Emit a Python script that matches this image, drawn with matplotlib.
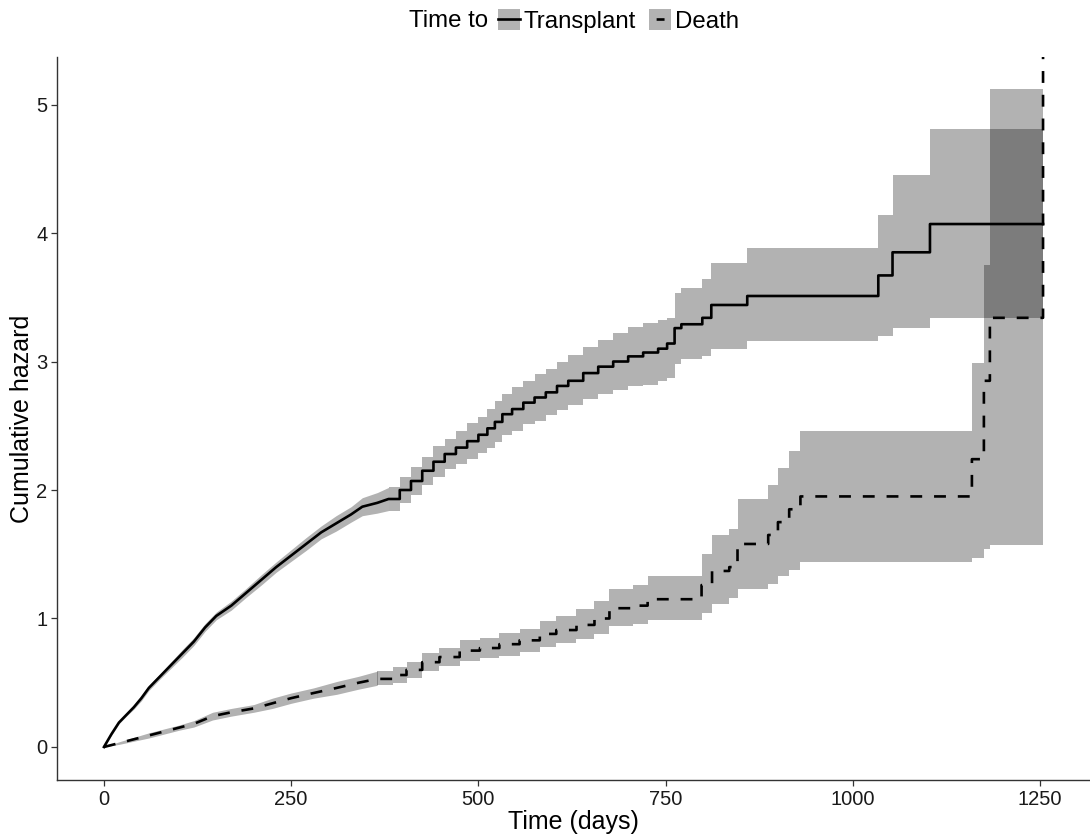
import matplotlib
matplotlib.use("Agg")
import matplotlib.pyplot as plt
from matplotlib.patches import Patch
from matplotlib.lines import Line2D
from matplotlib.legend_handler import HandlerTuple

plt.rcParams['font.family'] = ['Liberation Sans', 'DejaVu Sans']

# Nelson-Aalen cumulative hazard, time to transplant (step times in days)
transplant_time = [0, 10, 20, 30, 40, 50, 60, 75, 90, 105, 120, 135, 150, 170, 190,
                   210, 230, 250, 270, 290, 310, 330, 345, 365, 380, 395, 410, 425,
                   440, 455, 470, 485, 500, 512, 522, 532, 545, 560, 575, 590, 605,
                   620, 640, 660, 680, 700, 720, 740, 752, 762, 771, 799, 811, 859,
                   1034, 1053, 1103, 1254]
transplant_haz = [0, 0.10, 0.19, 0.25, 0.31, 0.38, 0.46, 0.55, 0.64, 0.73, 0.82, 0.93,
                  1.02, 1.10, 1.20, 1.30, 1.40, 1.49, 1.58, 1.67, 1.74, 1.81, 1.87,
                  1.90, 1.93, 2.00, 2.07, 2.15, 2.22, 2.28, 2.33, 2.38, 2.43, 2.48,
                  2.53, 2.59, 2.63, 2.68, 2.72, 2.76, 2.81, 2.85, 2.91, 2.96, 3.00,
                  3.04, 3.07, 3.10, 3.14, 3.26, 3.29, 3.34, 3.44, 3.51, 3.67, 3.85,
                  4.07, 4.07]
transplant_lo = [0, 0.09, 0.18, 0.24, 0.295, 0.36, 0.44, 0.53, 0.615, 0.70, 0.79, 0.90,
                 0.99, 1.065, 1.165, 1.26, 1.36, 1.445, 1.53, 1.62, 1.68, 1.75, 1.80,
                 1.82, 1.84, 1.90, 1.96, 2.04, 2.10, 2.16, 2.20, 2.24, 2.29, 2.33,
                 2.37, 2.43, 2.46, 2.51, 2.54, 2.58, 2.62, 2.66, 2.71, 2.75, 2.78,
                 2.81, 2.82, 2.85, 2.87, 2.98, 3.02, 3.04, 3.10, 3.16, 3.20, 3.26,
                 3.34, 3.34]
transplant_hi = [0, 0.11, 0.20, 0.26, 0.325, 0.40, 0.48, 0.57, 0.665, 0.76, 0.85, 0.96,
                 1.05, 1.135, 1.235, 1.34, 1.44, 1.535, 1.63, 1.72, 1.80, 1.87, 1.94,
                 1.98, 2.02, 2.10, 2.18, 2.26, 2.34, 2.40, 2.46, 2.52, 2.57, 2.63,
                 2.69, 2.75, 2.80, 2.85, 2.90, 2.94, 3.00, 3.05, 3.11, 3.17, 3.22,
                 3.27, 3.30, 3.32, 3.34, 3.53, 3.57, 3.64, 3.77, 3.88, 4.14, 4.45,
                 4.81, 4.81]

# cumulative hazard, time to death
death_time = [0, 20, 40, 60, 80, 100, 120, 145, 170, 200, 225, 250, 280, 311, 340,
              365, 386, 404, 425, 448, 475, 502, 528, 555, 582, 604, 631, 655, 675,
              706, 726, 798, 812, 835, 846, 887, 900, 915, 930, 1159, 1175, 1183, 1254]
death_haz = [0, 0.03, 0.06, 0.09, 0.12, 0.15, 0.18, 0.24, 0.27, 0.30, 0.34, 0.38, 0.42,
             0.46, 0.50, 0.53, 0.56, 0.60, 0.66, 0.70, 0.75, 0.77, 0.80, 0.83, 0.88,
             0.91, 0.95, 1.00, 1.08, 1.10, 1.15, 1.26, 1.37, 1.40, 1.58, 1.65, 1.75,
             1.85, 1.95, 2.24, 2.85, 3.34, 5.45]
death_lo = [0, 0.02, 0.045, 0.07, 0.10, 0.13, 0.155, 0.21, 0.24, 0.27, 0.30, 0.34, 0.38,
            0.41, 0.45, 0.48, 0.50, 0.54, 0.59, 0.63, 0.67, 0.69, 0.71, 0.74, 0.78,
            0.81, 0.84, 0.88, 0.94, 0.96, 0.99, 1.04, 1.11, 1.16, 1.23, 1.27, 1.33,
            1.38, 1.44, 1.47, 1.54, 1.57, 1.57]
death_hi = [0, 0.04, 0.075, 0.11, 0.14, 0.17, 0.205, 0.27, 0.30, 0.33, 0.38, 0.42, 0.46,
            0.51, 0.55, 0.59, 0.62, 0.66, 0.73, 0.77, 0.83, 0.85, 0.89, 0.92, 0.98,
            1.02, 1.07, 1.14, 1.23, 1.26, 1.33, 1.50, 1.65, 1.70, 1.93, 2.04, 2.17,
            2.30, 2.46, 2.99, 3.75, 5.12, 5.12]

# early on the events are so dense that the steps merge into a smooth curve
transplant_smooth_until = 380
death_smooth_until = 365

lw = 1.9
band_kw = dict(color='black', alpha=0.3, linewidth=0)


def draw_hazard(ax, t, h, lo, hi, smooth_until, ls):
    k = max(i for i, v in enumerate(t) if v <= smooth_until)
    ax.fill_between(t[:k + 1], lo[:k + 1], hi[:k + 1], **band_kw)
    ax.fill_between(t[k:], lo[k:], hi[k:], step='post', **band_kw)
    xs, ys = list(t[:k + 1]), list(h[:k + 1])
    for i in range(k + 1, len(t)):
        xs += [t[i], t[i]]
        ys += [h[i - 1], h[i]]
    ax.plot(xs, ys, color='black', lw=lw, linestyle=ls)


fig = plt.figure(figsize=(10.9, 8.34), dpi=100)
ax = fig.add_axes([57 / 1090, 54 / 834, 1 - 57 / 1090, (780 - 57) / 834])

draw_hazard(ax, transplant_time, transplant_haz, transplant_lo, transplant_hi,
            transplant_smooth_until, '-')
draw_hazard(ax, death_time, death_haz, death_lo, death_hi,
            death_smooth_until, (0, (4.5, 4.5)))

ax.set_xlim(-62.7, 1316.7)
ax.set_ylim(-0.257, 5.37)
ax.set_xticks([0, 250, 500, 750, 1000, 1250])
ax.set_yticks([0, 1, 2, 3, 4, 5])

for side in ['top', 'right']:
    ax.spines[side].set_visible(False)
for side in ['left', 'bottom']:
    ax.spines[side].set_color('#333333')
    ax.spines[side].set_linewidth(1.0)
ax.tick_params(axis='both', length=4, width=0.9, color='#333333',
               labelsize=14.5, labelcolor='#1a1a1a', pad=3)

ax.set_xlabel('Time (days)', fontsize=18, labelpad=1)
ax.set_ylabel('Cumulative hazard', fontsize=18, labelpad=1.5)

# legend along the top: grey key with the line type drawn over it
key_bg = Patch(facecolor='#b3b3b3', edgecolor='none')
key_solid = Line2D([], [], color='black', lw=lw)
key_dash = Line2D([], [], color='black', lw=lw, linestyle=(10.3, (3.0, 10)))
fig.text(409 / 1090, 1 - 21 / 834, 'Time to', fontsize=17.3, ha='left', va='center')
fig.legend(handles=[(key_bg, key_solid), (key_bg, key_dash)],
           labels=['Transplant', 'Death'],
           handler_map={tuple: HandlerTuple(ndivide=1, pad=0)},
           loc='center left', bbox_to_anchor=(498 / 1090, 1 - 21 / 834),
           ncol=2, frameon=False, fontsize=17.3, handlelength=0.92, handleheight=0.92,
           handletextpad=0.15, columnspacing=0.55, borderpad=0, borderaxespad=0)

fig.savefig('out.png', dpi=100)
